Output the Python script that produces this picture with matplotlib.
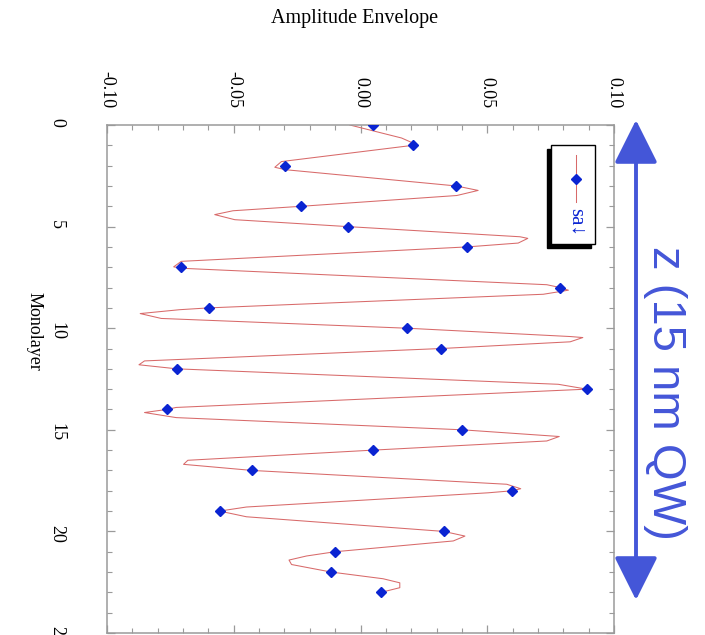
import numpy as np
import matplotlib
matplotlib.use('Agg')
import matplotlib.pyplot as plt
from matplotlib.patches import Rectangle, FancyArrowPatch
from matplotlib.lines import Line2D
from matplotlib.ticker import MultipleLocator, FormatStrFormatter

plt.rcParams['axes.unicode_minus'] = False
SERIF = ['Liberation Serif', 'DejaVu Serif']

# sampled points (markers) at integer monolayers
ml_points = list(range(24))
amp_points = [0.0050, 0.0207, -0.0296, 0.0378, -0.0233, -0.0050, 0.0420, -0.0707,
              0.0788, -0.0598, 0.0182, 0.0318, -0.0724, 0.0893, -0.0765, 0.0401,
              0.0050, -0.0427, 0.0599, -0.0556, 0.0328, -0.0100, -0.0116, 0.0081]

# red trace (finer sampling)
ml_line = [0.0, 0.64, 0.85, 1.0, 1.80, 2.08, 2.2, 3.0, 3.22, 3.47, 4.0, 4.22, 4.41, 4.66,
           5.0, 5.5, 5.58, 5.81, 6.0, 6.71, 6.98, 7.05, 7.86, 8.0, 8.13, 8.33, 9.0, 9.09,
           9.28, 9.52, 10.0, 10.41, 10.46, 10.67, 11.0, 11.61, 11.80, 12.0, 12.76, 13.0,
           13.9, 14.0, 14.15, 14.4, 15.0, 15.33, 15.55, 16.0, 16.5, 16.7, 17.0, 17.68,
           17.9, 18.0, 18.1, 18.8, 19.0, 19.28, 20.0, 20.23, 20.47, 21.0, 21.21, 21.41,
           21.63, 22.0, 22.33, 22.53, 22.77, 23.0]
amp_line = [-0.0042, 0.0162, 0.0200, 0.0207, -0.0312, -0.0338, -0.0296, 0.0378, 0.0464,
            0.0380, -0.0233, -0.0503, -0.0575, -0.0496, -0.0050, 0.0629, 0.0660, 0.0622,
            0.0420, -0.0707, -0.0737, -0.0707, 0.0735, 0.0788, 0.0820, 0.0721, -0.0598,
            -0.0714, -0.0869, -0.0786, 0.0182, 0.0827, 0.0877, 0.0827, 0.0318, -0.0852,
            -0.0874, -0.0724, 0.0780, 0.0893, -0.0727, -0.0765, -0.0852, -0.0727, 0.0401,
            0.0784, 0.0735, 0.0050, -0.0681, -0.0698, -0.0427, 0.0577, 0.0632, 0.0599,
            0.0504, -0.0450, -0.0556, -0.0450, 0.0328, 0.0412, 0.0366, -0.0100, -0.0213,
            -0.0282, -0.0272, -0.0116, 0.0089, 0.0155, 0.0155, 0.0081]

legend_label = 'sa\u2193'
x_title = 'Amplitude Envelope'
y_title = 'Monolayer'
note = 'z (15 nm QW)'

W, H = 705, 635
fig = plt.figure(figsize=(W / 100, H / 100), dpi=100)
ax = fig.add_axes([107 / W, 2 / H, 507 / W, 508 / H])

red = '#d86a6a'
blue = '#0a24d2'
ax.plot(amp_line, ml_line, color=red, lw=0.75, zorder=2)
ax.plot(amp_points, ml_points, linestyle='none', marker='D', ms=4.6,
        color=blue, mec=blue, zorder=3)

ax.set_xlim(-0.10, 0.10)
ax.set_ylim(25, 0)
ax.xaxis.set_major_locator(MultipleLocator(0.05))
ax.xaxis.set_minor_locator(MultipleLocator(0.01))
ax.xaxis.set_major_formatter(FormatStrFormatter('%.2f'))
ax.yaxis.set_major_locator(MultipleLocator(5))
ax.yaxis.set_minor_locator(MultipleLocator(1))

for s in ax.spines.values():
    s.set_color('#9a9a9a')
    s.set_linewidth(1.1)

ax.tick_params(axis='both', which='both', direction='in', color='#9a9a9a',
               top=True, bottom=True, left=True, right=True)
ax.tick_params(axis='both', which='major', length=6, width=0.9)
ax.tick_params(axis='both', which='minor', length=3.5, width=0.8)
ax.tick_params(axis='x', labeltop=True, labelbottom=False, labelrotation=-90, pad=12)
ax.tick_params(axis='y', labelleft=True, labelrotation=-90, pad=30)
for lab in ax.get_xticklabels() + ax.get_yticklabels():
    lab.set_family(SERIF)
    lab.set_fontsize(13)

fig.text(355 / W, 1 - 18 / H, x_title, ha='center', va='center',
         family=SERIF, fontsize=14.5)
fig.text(34 / W, 1 - 331 / H, y_title, ha='center', va='center', rotation=-90,
         family=SERIF, fontsize=13)

# legend drawn by hand (rotated layout)
def ax_xy(px, py):
    return (px - 107) / 507, (633 - py) / 508

x0, y0 = ax_xy(547, 248)
ax.add_patch(Rectangle((x0, y0), 44 / 507, 99 / 508, transform=ax.transAxes,
                       facecolor='black', edgecolor='black', zorder=5))
x0, y0 = ax_xy(551, 244)
ax.add_patch(Rectangle((x0, y0), 44 / 507, 99 / 508, transform=ax.transAxes,
                       facecolor='white', edgecolor='black', lw=1.0, zorder=6))
lx, ly1 = ax_xy(576, 155)
_, ly2 = ax_xy(576, 202)
_, lym = ax_xy(576, 179)
ax.add_line(Line2D([lx, lx], [ly1, ly2], transform=ax.transAxes, color=red,
                   lw=0.75, zorder=7))
ax.add_line(Line2D([lx], [lym], transform=ax.transAxes, marker='D', ms=4.6,
                   color=blue, zorder=8))
tx, ty = ax_xy(576, 222)
ax.text(tx, ty, legend_label, transform=ax.transAxes, rotation=-90, ha='center',
        va='center', color=blue, family=SERIF, fontsize=15, zorder=8)

# big double arrow with label
arrow_blue = '#4456d8'
arr = FancyArrowPatch((636 / W, 1 - 600 / H), (636 / W, 1 - 120 / H),
                      transform=fig.transFigure,
                      arrowstyle='<|-|>,head_length=27,head_width=13.5',
                      mutation_scale=1, lw=2.8, color=arrow_blue,
                      shrinkA=0, shrinkB=0)
fig.patches.append(arr)
fig.text(665 / W, 1 - 393 / H, note, rotation=-90, ha='center', va='center',
         color=arrow_blue, family=['Liberation Sans', 'DejaVu Sans'], fontsize=34)

fig.savefig('out.png', dpi=100)
